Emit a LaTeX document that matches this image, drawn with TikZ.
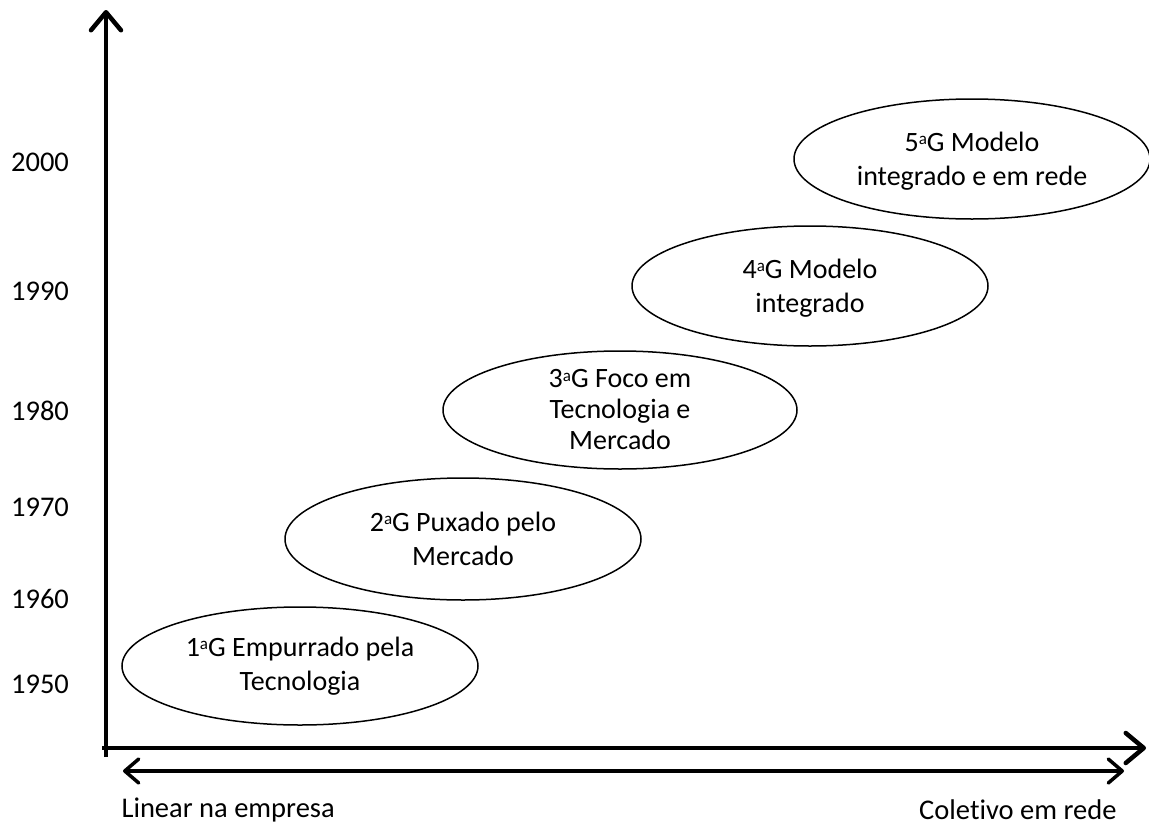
\documentclass[tikz,border=0pt]{standalone}
\usepackage{fontspec}
\setmainfont{Carlito}[Ligatures={NoCommon}]
\usetikzlibrary{arrows.meta,shapes.geometric}
\newcommand{\genord}{\raisebox{0.5ex}{\fontsize{17}{17}\selectfont a}}
\begin{document}
\begin{tikzpicture}[x=1pt,y=-1pt,
  gen/.style={draw, ellipse, line width=1.5pt, minimum width=356pt, minimum height=118pt,
    inner sep=0pt, align=center, font=\fontsize{28}{34.5}\selectfont},
  yearlbl/.style={font=\fontsize{28.5}{30}\selectfont, anchor=center},
  sidelbl/.style={font=\fontsize{28.5}{30}\selectfont},
  axis/.style={line width=4.5pt, -{Straight Barb[length=18pt, width=30pt, line cap=round, line join=round]}},
  span/.style={line width=3.5pt, {Straight Barb[length=14pt, width=24pt, line cap=round, line join=round]}-{Straight Barb[length=14pt, width=24pt, line cap=round, line join=round]}}]
\useasboundingbox (0,0) rectangle (1149,825);
% axes
\coordinate (ytop) at (106,10);
\coordinate (ybot) at (106,757);
\coordinate (xl) at (102,748);
\coordinate (xr) at (1146,748);
\draw[axis] (ybot) -- (ytop);
\draw[axis] (xl) -- (xr);
% range arrow below the axis
\coordinate (sl) at (123,771);
\coordinate (sr) at (1124,771);
\draw[span] (sl) -- (sr);
\node[sidelbl, anchor=west] (lin) at (118,810) {Linear na empresa};
\node[sidelbl, anchor=east] (col) at (1120,810) {Coletivo em rede};
% years
\node[yearlbl] (y2000) at (40,162) {2000};
\node[yearlbl] (y1990) at (40,291) {1990};
\node[yearlbl] (y1980) at (40,411) {1980};
\node[yearlbl] (y1970) at (40,507) {1970};
\node[yearlbl] (y1960) at (40,599) {1960};
\node[yearlbl] (y1950) at (40,684) {1950};
% generations
\node[gen] (g1) at (300,666) {1\genord G Empurrado pela\\Tecnologia};
\node[gen, minimum height=122pt] (g2) at (463,539) {2\genord G Puxado pelo\\Mercado};
\node[gen, minimum width=354pt, font=\fontsize{28}{31}\selectfont] (g3) at (620,410) {3\genord G Foco em\\Tecnologia e\\Mercado};
\node[gen, minimum height=120pt, text depth=0pt] (g4) at (810,286) {4\genord G Modelo\\integrado};
\node[gen, minimum height=120pt, text depth=0pt] (g5) at (972,159) {5\genord G Modelo\\integrado e em rede};
\end{tikzpicture}
\end{document}
